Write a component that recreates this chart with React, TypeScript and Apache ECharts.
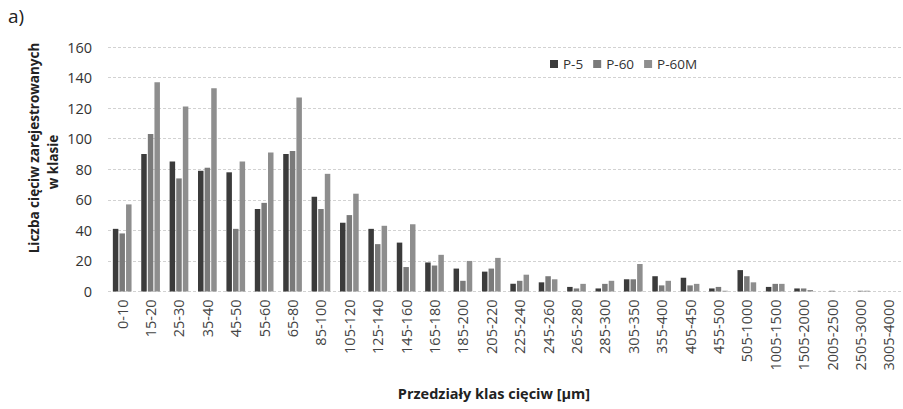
import React, { useEffect, useRef } from "react";
import * as echarts from "echarts";

const categories = ["0-10","15-20","25-30","35-40","45-50","55-60","65-80","85-100","105-120","125-140","145-160","165-180","185-200","205-220","225-240","245-260","265-280","285-300","305-350","355-400","405-450","455-500","505-1000","1005-1500","1505-2000","2005-2500","2505-3000","3005-4000"];
const p5 = [41, 90, 85, 79, 78, 54, 90, 62, 45, 41, 32, 19, 15, 13, 5, 6, 3, 2, 8, 10, 9, 2, 14, 3, 2, 0, 0, 0];
const p60 = [38, 103, 74, 81, 41, 58, 92, 54, 50, 31, 16, 17, 7, 15, 7, 10, 2, 5, 8, 4, 4, 3, 10, 5, 2, 0.5, 0.5, 0];
const p60m = [57, 137, 121, 133, 85, 91, 127, 77, 64, 43, 44, 24, 20, 22, 11, 8, 5, 7, 18, 7, 5, 0.5, 6, 5, 1, 0, 0.5, 0];
const seriesNames = ["P-5", "P-60", "P-60M"];
const seriesColors = ["#3b3b3b", "#7a7a7a", "#8e8e8e"];
const yTicks = { min: 0, max: 160, interval: 20 };

const FONT = "'Open Sans', 'Noto Sans', sans-serif";

export default function App() {
  const ref = useRef<HTMLDivElement>(null);
  useEffect(() => {
    if (!ref.current) return;
    const chart = echarts.init(ref.current, null, { renderer: "svg" });
    const data = [p5, p60, p60m];
    chart.setOption({
      animation: false,
      backgroundColor: "#ffffff",
      textStyle: { fontFamily: FONT },
      legend: {
        left: 545,
        top: 52,
        itemWidth: 8,
        itemHeight: 8,
        itemGap: 10,
        icon: "rect",
        textStyle: { fontFamily: FONT, fontSize: 13.5, color: "#333" },
        data: seriesNames,
      },
      grid: { left: 108, top: 47, width: 809, height: 244.5, containLabel: false },
      xAxis: {
        type: "category",
        data: categories,
        axisLine: { show: false },
        axisTick: { show: false },
        axisLabel: {
          rotate: 90,
          interval: 0,
          margin: 8,
          fontFamily: FONT,
          fontSize: 14.5,
          color: "#444",
        },
      },
      yAxis: {
        type: "value",
        min: yTicks.min,
        max: yTicks.max,
        interval: yTicks.interval,
        axisLine: { show: false },
        axisTick: { show: false },
        axisLabel: { fontFamily: FONT, fontSize: 14.5, color: "#333", margin: 16 },
        splitLine: { lineStyle: { color: "#d2d2d2", type: [3, 2], width: 1 } },
      },
      series: seriesNames.map((name, i) => ({
        name,
        type: "bar",
        data: data[i],
        barWidth: 5.5,
        barGap: "20%",
        itemStyle: { color: seriesColors[i] },
      })),
      graphic: [
        {
          type: "text",
          left: 8,
          top: 6,
          style: { text: "a)", fontFamily: FONT, fontSize: 19, fill: "#222" },
        },
        {
          type: "text",
          x: 34,
          y: 148,
          rotation: Math.PI / 2,
          style: {
            text: "Liczba cięciw zarejestrowanych",
            fontFamily: FONT,
            fontSize: 13.5,
            fontWeight: "bold",
            fill: "#222",
            align: "center",
            verticalAlign: "middle",
          },
        },
        {
          type: "text",
          x: 53,
          y: 162,
          rotation: Math.PI / 2,
          style: {
            text: "w klasie",
            fontFamily: FONT,
            fontSize: 13.5,
            fontWeight: "bold",
            fill: "#222",
            align: "center",
            verticalAlign: "middle",
          },
        },
        {
          type: "text",
          x: 494,
          y: 393,
          style: {
            text: "Przedziały klas cięciw [µm]",
            fontFamily: FONT,
            fontSize: 14.5,
            fontWeight: "bold",
            fill: "#222",
            align: "center",
            verticalAlign: "middle",
          },
        },
      ],
    });
    return () => chart.dispose();
  }, []);
  return (
    <div
      ref={ref}
      style={{ position: "absolute", left: 0, top: 0, width: 903, height: 409 }}
    />
  );
}
